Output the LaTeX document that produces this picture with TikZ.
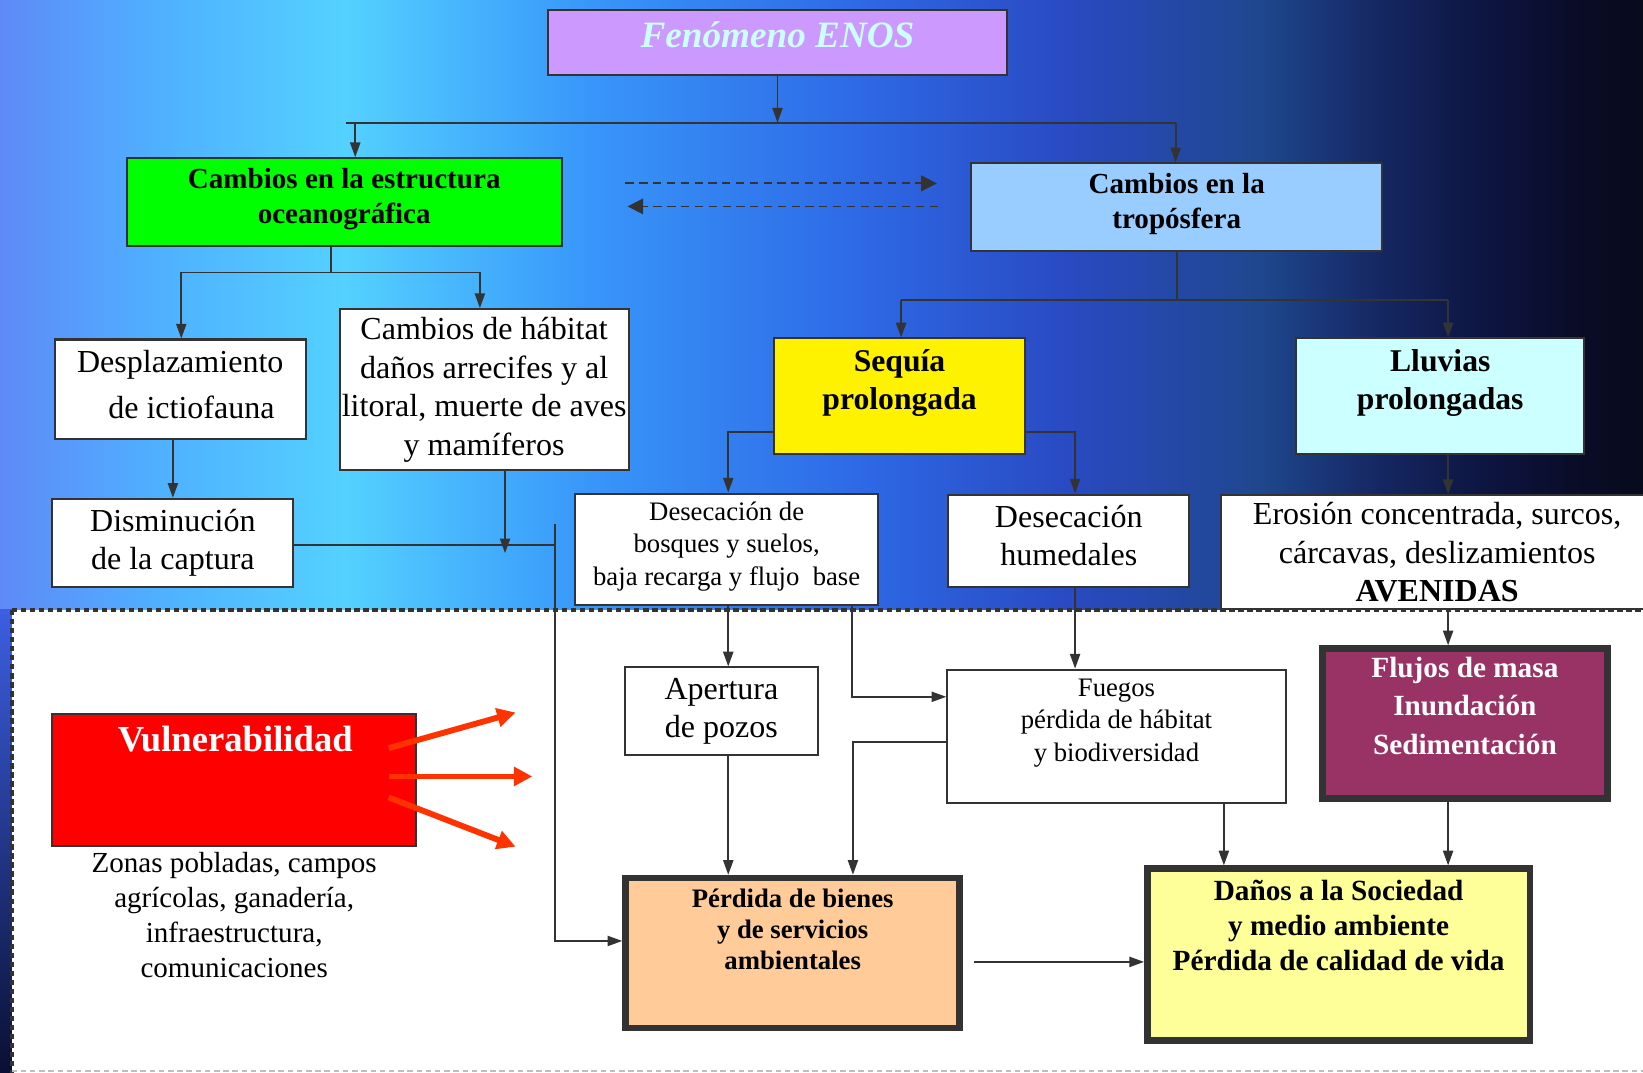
\documentclass[tikz,border=0pt]{standalone}
\usepackage{fontspec}
\setmainfont{Liberation Serif}
\usetikzlibrary{positioning, arrows.meta, calc, backgrounds}

\definecolor{borde}{HTML}{333333}
\definecolor{lila}{HTML}{CC99FF}
\definecolor{textoenos}{HTML}{CCFFFF}
\definecolor{celeste}{HTML}{99CCFF}
\definecolor{aguamarina}{HTML}{CCFFFF}
\definecolor{durazno}{HTML}{FFCC99}
\definecolor{crema}{HTML}{FFFF99}
\definecolor{vino}{HTML}{993366}
\definecolor{rojoflecha}{HTML}{FF3300}
\definecolor{franjaA}{RGB}{60,95,225}
\definecolor{franjaB}{RGB}{10,15,50}

% fondo azul del esquema (de claro a oscuro)
\pgfdeclarehorizontalshading{fondo}{100bp}{rgb(0bp)=(0.37,0.54,0.97); rgb(25bp)=(0.37,0.54,0.97); rgb(29.8bp)=(0.31,0.69,1); rgb(35.5bp)=(0.33,0.82,1); rgb(42.9bp)=(0.22,0.59,0.98); rgb(51.2bp)=(0.18,0.41,0.9); rgb(57.5bp)=(0.16,0.29,0.76); rgb(63.3bp)=(0.12,0.28,0.56); rgb(67.1bp)=(0.08,0.15,0.38); rgb(70.3bp)=(0.05,0.08,0.25); rgb(72.8bp)=(0.04,0.05,0.16); rgb(75bp)=(0.03,0.04,0.11); rgb(100bp)=(0.03,0.04,0.11)}

\begin{document}
\begin{tikzpicture}[x=0.02cm, y=-0.02cm,
		% Cajas
		caja/.style={draw=borde, line width=1.1pt, rectangle, align=center, inner sep=0pt, fill=white},
		gruesa/.style={caja, line width=3.6pt},
		% Textos
		txt/.style={align=center, inner sep=0pt},
		texto/.style={font=\fontsize{17.4}{21}\selectfont},
		menor/.style={font=\fontsize{14.5}{17.5}\selectfont},
		negrita/.style={font=\bfseries\fontsize{15.8}{19}\selectfont},
		% Conectores
		linea/.style={line width=1pt, draw=borde},
		flecha/.style={linea, -{Triangle[length=8pt, width=5.5pt]}},
		punteada/.style={linea, dash pattern=on 4.5pt off 3pt, -{Triangle[length=8.5pt, width=8.5pt]}},
		roja/.style={draw=rojoflecha, line width=3.2pt, -{Triangle[length=10pt, width=10pt]}}
		]
		
		\useasboundingbox (0,0) rectangle (1568,1024);
		
		% --- NIVEL SUPERIOR ---
		\node[caja, fill=lila, minimum width=8.76cm, minimum height=1.24cm] (enos) at (742,41) {};
		\node[txt, text=textoenos, font=\bfseries\itshape\fontsize{20.2}{24}\selectfont] (enos-t) at ($(enos)+(0,-8)$) {Fenómeno ENOS};
		
		\node[caja, fill=green, negrita, text depth=6.8pt, minimum width=8.3cm, minimum height=1.68cm] (oceano) at (328.5,193) {Cambios en la estructura\\oceanográfica};
		\node[caja, fill=celeste, negrita, text depth=6.8pt, minimum width=7.84cm, minimum height=1.68cm] (tropo) at (1123,198) {Cambios en la\\tropósfera};
		
		% --- RAMA OCEANOGRAFICA ---
		\node[caja, font=\fontsize{17.4}{25}\selectfont, text depth=5.7pt, minimum width=4.8cm, minimum height=1.9cm] (despl) at (172,371.5) {Desplazamiento\\\hspace*{0.7em}de ictiofauna};
		\node[caja, texto, minimum width=5.52cm, minimum height=3.08cm] (habitat) at (462,372) {Cambios de hábitat\\daños arrecifes y al\\litoral, muerte de aves\\y mamíferos};
		\node[caja, texto, minimum width=4.6cm, minimum height=1.68cm] (dismin) at (165,518) {Disminución\\de la captura};
		
		% --- RAMA TROPOSFERICA ---
		\node[caja, fill=yellow, minimum width=4.78cm, minimum height=2.2cm] (sequia) at (858.5,378) {};
		\node[txt, font=\bfseries\fontsize{17.2}{21}\selectfont] (sequia-t) at ($(sequia)+(0,-12.5)$) {Sequía\\prolongada};
		\node[caja, fill=aguamarina, minimum width=5.5cm, minimum height=2.2cm] (lluvias) at (1374.5,378) {};
		\node[txt, font=\bfseries\fontsize{17.2}{21}\selectfont] (lluvias-t) at ($(lluvias)+(0,-12.5)$) {Lluvias\\prolongadas};
		
		\node[caja, menor, text depth=6pt, minimum width=5.78cm, minimum height=2.12cm] (bosques) at (693.5,524) {Desecación de\\bosques y suelos,\\baja recarga y flujo~~base};
		\node[caja, texto, text depth=5.7pt, minimum width=4.6cm, minimum height=1.76cm] (humed) at (1020,516) {Desecación\\humedales};
		\node[caja, texto, minimum width=8.26cm, minimum height=2.18cm] (erosion) at (1371.5,527) {Erosión concentrada, surcos,\\cárcavas, deslizamientos\\\textbf{AVENIDAS}};
		
		% --- IMPACTOS ---
		\node[caja, texto, minimum width=3.7cm, minimum height=1.68cm] (apertura) at (688.5,679) {Apertura\\de pozos};
		\node[caja, minimum width=6.46cm, minimum height=2.54cm] (fuegos) at (1065.5,702.5) {};
		\node[txt, menor] (fuegos-t) at ($(fuegos)+(0,-12.5)$) {Fuegos\\pérdida de hábitat\\y biodiversidad};
		\node[gruesa, fill=vino, minimum width=5.44cm, minimum height=2.86cm] (flujos) at (1398,690.5) {};
		\node[txt, text=white, font=\bfseries\fontsize{15.9}{20.8}\selectfont] (flujos-t) at ($(flujos)+(0,-17)$) {Flujos de masa\\Inundación\\Sedimentación};
		
		\node[gruesa, fill=durazno, minimum width=6.38cm, minimum height=2.86cm] (perdida) at (756.5,909.5) {};
		\node[txt, font=\bfseries\fontsize{14.5}{17}\selectfont] (perdida-t) at ($(perdida)+(0,-22.5)$) {Pérdida de bienes\\y de servicios\\ambientales};
		\node[gruesa, fill=crema, minimum width=7.3cm, minimum height=3.28cm] (danos) at (1277.5,911) {};
		\node[txt, font=\bfseries\fontsize{15.9}{19}\selectfont] (danos-t) at ($(danos)+(0,-27.5)$) {Daños a la Sociedad\\y medio ambiente\\Pérdida de calidad de vida};
		
		% --- VULNERABILIDAD ---
		\node[caja, fill=red, minimum width=6.94cm, minimum height=2.52cm] (vulner) at (223.5,744) {};
		\node[txt, text=white, font=\bfseries\fontsize{19.9}{24}\selectfont] (vulner-t) at ($(vulner)+(1,-39)$) {Vulnerabilidad};
		\node[txt, font=\fontsize{15.8}{19}\selectfont, below=3pt of vulner] (zonas) {Zonas pobladas, campos\\agrícolas, ganadería,\\infraestructura,\\comunicaciones};
		
		% --- PUNTOS DE RAMIFICACION ---
		\coordinate (r1i) at (330,117);
		\coordinate (r1o) at (339,117);
		\coordinate (r1d) at (1122,117);
		\coordinate (r2i) at (173,260);
		\coordinate (r2c) at (316,260);
		\coordinate (r2d) at (458,260);
		\coordinate (r3i) at (860,286);
		\coordinate (r3d) at (1382,286);
		\coordinate (s-izq) at (695,412);
		\coordinate (s-der) at (1026,412);
		\coordinate (uni-i) at (530,500);
		\coordinate (uni-c) at (530,520);
		\coordinate (uni-f) at (530,898);
		\coordinate (hab-f) at (482,528);
		\coordinate (fue-a) at (813,665);
		\coordinate (fue-b) at (814,708);
		\coordinate (dan-a) at (930,918);
		\coordinate (dan-b) at (1168,766);
		\coordinate (v1) at (492,680);
		\coordinate (v2) at (508,741);
		\coordinate (v3) at (492,808);
		
		% --- CONEXIONES ---
		% 1. Fenomeno hacia las dos ramas
		\draw[flecha] (enos.south) -- (enos.south |- r1d);
		\draw[linea] (r1i) -- (r1d);
		\draw[flecha] (r1o) -- (r1o |- oceano.north);
		\draw[flecha] (r1d) -- (r1d |- tropo.north);
		\draw[punteada] ($(oceano.east)+(60,-18)$) -- ($(tropo.west)+(-32,-23)$);
		\draw[punteada] ($(tropo.west)+(-31,-1)$) -- ($(oceano.east)+(62,4)$);
		
		% 2. Rama oceanografica
		\draw[linea] (oceano.south -| r2c) -- (r2c);
		\draw[linea] (r2i) -- (r2d);
		\draw[flecha] (r2i) -- (r2i |- despl.north);
		\draw[flecha] (r2d) -- (r2d |- habitat.north);
		\draw[flecha] (despl.south -| dismin) -- (dismin.north);
		\draw[linea] (dismin.east |- uni-c) -- (uni-c);
		\draw[flecha] (habitat.south -| hab-f) -- (hab-f);
		\draw[flecha] (uni-i) -- (uni-f) -- (uni-f -| perdida.west);
		
		% 3. Rama troposferica
		\draw[linea] (tropo.south) -- (tropo.south |- r3d);
		\draw[linea] (r3i) -- (r3d);
		\draw[flecha] (r3i) -- (r3i |- sequia.north);
		\draw[flecha] (r3d) -- (r3d |- lluvias.north);
		\draw[flecha] (sequia.west |- s-izq) -- (s-izq) -- (s-izq |- bosques.north);
		\draw[flecha] (sequia.east |- s-der) -- (s-der) -- (s-der |- humed.north);
		\draw[flecha] (lluvias.south -| r3d) -- (r3d |- erosion.north);
		
		% 4. Hacia los impactos
		\draw[flecha] (bosques.south -| s-izq) -- (s-izq |- apertura.north);
		\draw[flecha] (bosques.south -| fue-a) |- (fuegos.west |- fue-a);
		\draw[flecha] (humed.south -| s-der) -- (s-der |- fuegos.north);
		\draw[flecha] (fuegos.west |- fue-b) -| (fue-b |- perdida.north);
		\draw[flecha] (apertura.south -| s-izq) -- (s-izq |- perdida.north);
		\draw[flecha] (dan-a) -- (dan-a -| danos.west);
		\draw[flecha] (fuegos.south -| dan-b) -- (dan-b |- danos.north);
		\draw[flecha] (erosion.south -| r3d) -- (r3d |- flujos.north);
		\draw[flecha] (flujos.south -| r3d) -- (r3d |- danos.north);
		
		% 5. Vulnerabilidad
		\draw[roja] ($(vulner.east)+(-27,-30)$) -- (v1);
		\draw[roja] ($(vulner.east)+(-27,-3)$) -- (v2);
		\draw[roja] ($(vulner.east)+(-27,17)$) -- (v3);
		
		% --- FONDO ---
		\begin{scope}[on background layer]
			\shade[shading=fondo] (0,0) rectangle (1568,1024);
			\shade[top color=franjaA, bottom color=franjaB] (0,582) rectangle (12,1024);
			\fill[white] (11,582) rectangle (1568,1024);
			\draw[borde, line width=2.2pt, dash pattern=on 3pt off 1.9pt] (11,582) -- (1568,582);
			\draw[borde, line width=2.2pt, dash pattern=on 3pt off 1.9pt] (11,582) -- (11,1024);
			\draw[gray!50, line width=0.8pt, dash pattern=on 3pt off 2pt] (11,1022) -- (1568,1022);
		\end{scope}
		
	\end{tikzpicture}
\end{document}
